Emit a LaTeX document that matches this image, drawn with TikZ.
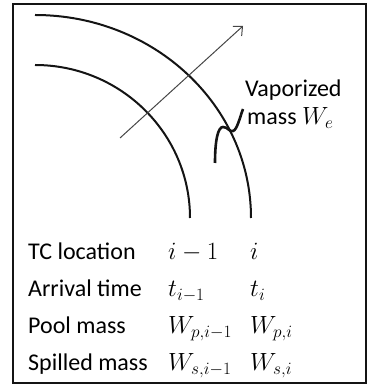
\documentclass[tikz,border=0pt]{standalone}
\usepackage{fontspec}
\setmainfont{Carlito}
\usepackage{tikz}
\usetikzlibrary{arrows.meta, positioning}
\definecolor{FrontBlack}{RGB}{20,20,20}
\definecolor{ArrowGray}{RGB}{70,70,70}

\begin{document}
\begin{tikzpicture}[x=1pt, y=1pt,
            lbl/.style={anchor=base west, inner sep=0pt,
                        font=\fontsize{24}{28}\selectfont},
            front/.style={FrontBlack, line width=2pt},
            arr/.style={-{Straight Barb[length=7pt, width=13pt]}, ArrowGray, line width=1pt}
          ]
          \useasboundingbox (0,0) rectangle (368,385);
          \draw[FrontBlack, line width=1.7pt] (13,2) rectangle (366,381);

          % pool fronts at i-1 and i
          \draw[front] (35,320) arc[start angle=90, end angle=0, x radius=155, y radius=153];
          \draw[front] (35,370) arc[start angle=90, end angle=0, x radius=216, y radius=203];

          % spreading direction
          \coordinate (dirs) at (120,247);
          \coordinate (dire) at (243,359);
          \draw[arr] (dirs) -- (dire);

          % vaporized mass
          \node[lbl] (vap)  at (245,288) {Vaporized};
          \node[lbl] (mass) at (247,260) {mass $W_e$};
          \coordinate (wave) at (215,222);
          \coordinate (wavetop) at (243,276);
          \draw[FrontBlack, line width=2.6pt] (wave)
            .. controls (215,245) and (218,258) .. (223,258)
            .. controls (228,258) and (229,253) .. (233,254)
            .. controls (237,255) and (240,268) .. (wavetop);

          % table
          \node[lbl] (loc)   at (28,125)  {TC location};
          \node[lbl] (locA)  at (168,125) {$i-1$};
          \node[lbl] (locB)  at (250,125) {$i$};
          \node[lbl] (arr)   at (28,88)   {Arrival time};
          \node[lbl] (arrA)  at (168,88)  {$t_{i-1}$};
          \node[lbl] (arrB)  at (250,88)  {$t_i$};
          \node[lbl] (pool)  at (28,51)   {Pool mass};
          \node[lbl] (poolA) at (168,51)  {$W_{p,i-1}$};
          \node[lbl] (poolB) at (250,51)  {$W_{p,i}$};
          \node[lbl] (spl)   at (28,14)   {Spilled mass};
          \node[lbl] (splA)  at (168,14)  {$W_{s,i-1}$};
          \node[lbl] (splB)  at (250,14)  {$W_{s,i}$};
        \end{tikzpicture}
\end{document}
